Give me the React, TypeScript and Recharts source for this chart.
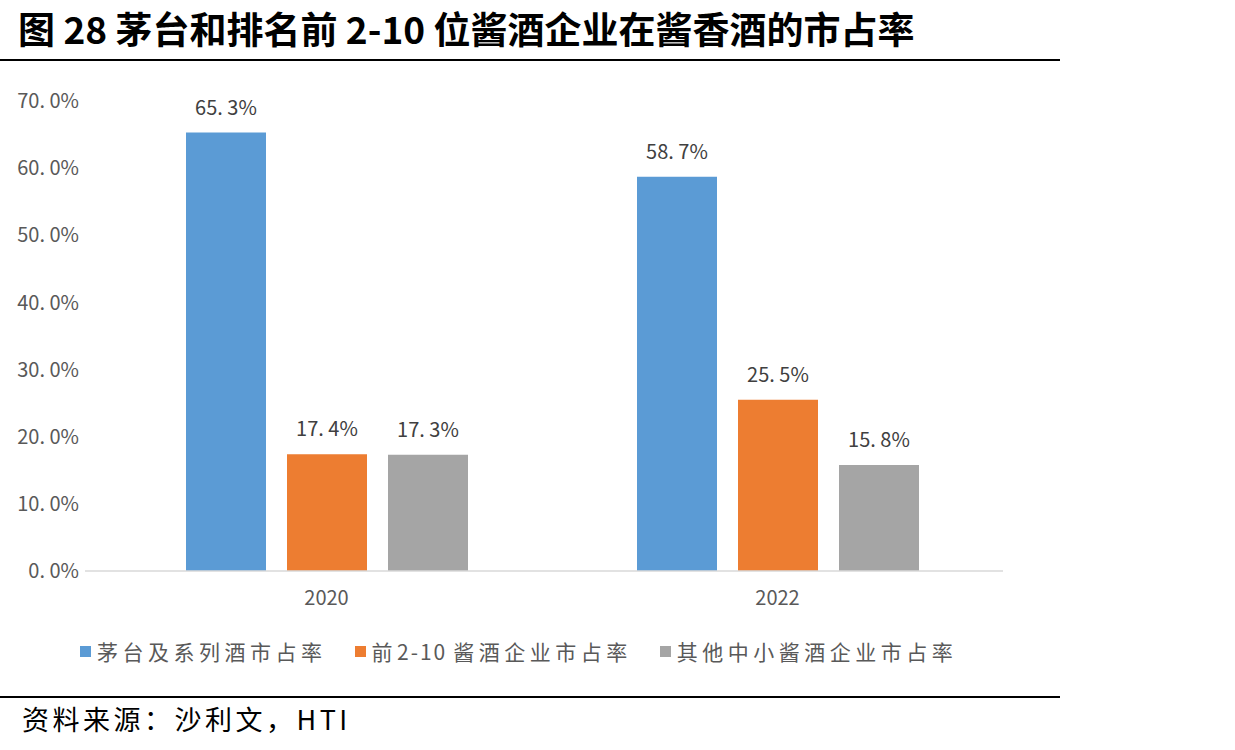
import React from "react";
import { BarChart, Bar, XAxis, YAxis, LabelList } from "recharts";

const categories = ["2020", "2022"];
const seriesNames = ["茅台及系列酒市占率", "前2-10酱酒企业市占率", "其他中小酱酒企业市占率"];
const moutai = [65.3, 58.7];
const top2to10 = [17.4, 25.5];
const others = [17.3, 15.8];
const yTicks = [0, 10, 20, 30, 40, 50, 60, 70];
const colors = ["#5B9BD5", "#ED7D31", "#A5A5A5"];
const keys = ["moutai", "top2to10", "others"];

const data = categories.map((c, i) => ({
  year: c,
  moutai: moutai[i],
  top2to10: top2to10[i],
  others: others[i],
}));

const fmt = (v: number) => v.toFixed(1).replace(".", ". ") + "%";

const CJK = "'Noto Sans CJK SC', 'Noto Sans', sans-serif";

const renderName = (n: string) =>
  n.split(/([0-9\-]+)/).map((part, j) =>
    /^[0-9\-]+$/.test(part) ? (
      <span key={j} style={{ letterSpacing: 2, marginRight: 6 }}>{part}</span>
    ) : (
      <span key={j}>{part}</span>
    )
  );

export default function App() {
  return (
    <div
      style={{
        position: "absolute",
        left: 0,
        top: 0,
        width: 1235,
        height: 750,
        background: "#fff",
        fontFamily: CJK,
        overflow: "hidden",
      }}
    >
      <div
        style={{
          position: "absolute",
          left: 18,
          top: 6,
          fontSize: 37,
          fontWeight: 700,
          color: "#000",
          whiteSpace: "nowrap",
          lineHeight: "44px",
        }}
      >
        图 28 茅台和排名前 2-10 位酱酒企业在酱香酒的市占率
      </div>
      <div style={{ position: "absolute", left: 0, top: 59, width: 1060, height: 2, background: "#000" }} />

      <div style={{ position: "absolute", left: 0, top: 0 }}>
        <BarChart
          width={1235}
          height={620}
          data={data}
          margin={{ top: 101, right: 232, bottom: 19, left: 0 }}
          barSize={80}
          barGap={21}
        >
          <XAxis
            dataKey="year"
            axisLine={{ stroke: "#D9D9D9", strokeWidth: 1.5 }}
            tickLine={false}
            tickMargin={14}
            height={30}
            padding={{ left: 16, right: 0 }}
            tick={{ fill: "#595959", fontSize: 20, fontFamily: CJK }}
          />
          <YAxis
            domain={[0, 70]}
            ticks={yTicks}
            axisLine={false}
            tickLine={false}
            width={85}
            tickMargin={0}
            tickFormatter={fmt}
            tick={{ fill: "#595959", fontSize: 20, fontFamily: CJK }}
          />
          {keys.map((k, i) => (
            <Bar key={k} dataKey={k} name={seriesNames[i]} fill={colors[i]} isAnimationActive={false}>
              <LabelList
                dataKey={k}
                position="top"
                offset={18}
                formatter={(v: any) => fmt(Number(v))}
                style={{ fill: "#404040", fontSize: 20, fontFamily: CJK }}
              />
            </Bar>
          ))}
        </BarChart>
      </div>

      <div
        style={{
          position: "absolute",
          left: 80,
          top: 634,
          height: 34,
          display: "flex",
          alignItems: "center",
          color: "#595959",
          fontSize: 21,
          letterSpacing: 4.5,
          whiteSpace: "nowrap",
        }}
      >
        {seriesNames.map((n, i) => (
          <div key={n} style={{ display: "flex", alignItems: "center", marginRight: i < 2 ? 28 : 0 }}>
            <span style={{ display: "inline-block", width: 11, height: 11, background: colors[i], marginRight: 6 }} />
            <span>{renderName(n)}</span>
          </div>
        ))}
      </div>

      <div style={{ position: "absolute", left: 0, top: 696, width: 1060, height: 2, background: "#000" }} />
      <div
        style={{
          position: "absolute",
          left: 22,
          top: 700,
          fontSize: 27,
          letterSpacing: 3.5,
          color: "#000",
          whiteSpace: "nowrap",
          lineHeight: "38px",
        }}
      >
        资料来源：沙利文，HTI
      </div>
    </div>
  );
}
